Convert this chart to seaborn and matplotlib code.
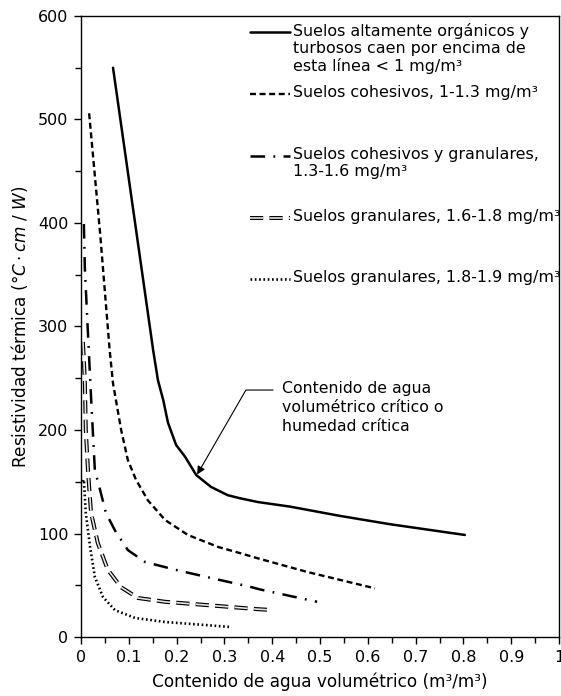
import matplotlib
matplotlib.use("Agg")
import matplotlib.pyplot as plt
import matplotlib.patheffects as pe
import seaborn as sns
import pandas as pd
from matplotlib.ticker import MultipleLocator, FixedLocator

sns.set_theme(style="white")
plt.rcParams['font.family'] = ['DejaVu Sans']
plt.rcParams['mathtext.fontset'] = 'dejavusans'
plt.rcParams['lines.scale_dashes'] = False

# ---- data ----
organic_x = [0.067, 0.151, 0.161, 0.172, 0.182, 0.199, 0.218, 0.241, 0.272, 0.307, 0.333, 0.37, 0.437, 0.542, 0.646, 0.803]
organic_y = [550, 277, 248, 229, 207, 185.5, 174, 156.5, 145, 137, 134, 130.4, 126, 117, 109, 98.6]

cohesive_x = [0.017, 0.04, 0.06, 0.067, 0.084, 0.098, 0.115, 0.14, 0.176, 0.224, 0.287, 0.333, 0.37, 0.472, 0.615]
cohesive_y = [506, 390, 277, 245, 200, 171, 152, 132, 113, 98.5, 87, 81, 76, 63, 47]

cohgran_x = [0.006, 0.008, 0.0125, 0.017, 0.021, 0.029, 0.04, 0.052, 0.071, 0.098, 0.134, 0.197, 0.272, 0.354, 0.374, 0.494]
cohgran_y = [399, 357, 313, 270, 232, 161, 142, 120, 103, 84, 72.5, 65, 57, 48.5, 46, 34]

gran1_x = [0.004, 0.008, 0.01, 0.015, 0.021, 0.035, 0.056, 0.084, 0.119, 0.176, 0.259, 0.366, 0.402]
gran1_y = [285, 248, 200, 158, 120, 91, 65, 48, 37.7, 34, 31, 27, 26]

gran2_x = [0.004, 0.006, 0.01, 0.019, 0.029, 0.046, 0.071, 0.113, 0.176, 0.259, 0.312]
gran2_y = [150, 152, 120, 87, 58, 38.6, 26, 18.4, 14.5, 11.6, 9.7]

labels = [
    "Suelos altamente orgánicos y\nturbosos caen por encima de\nesta línea < 1 mg/m³",
    "Suelos cohesivos, 1-1.3 mg/m³",
    "Suelos cohesivos y granulares,\n1.3-1.6 mg/m³",
    "Suelos granulares, 1.6-1.8 mg/m³",
    "Suelos granulares, 1.8-1.9 mg/m³",
]
x_ticks = [0, 0.1, 0.2, 0.3, 0.4, 0.5, 0.6, 0.7, 0.8, 0.9, 1]
x_tick_labels = ["0", "0.1", "0.2", "0.3", "0.4", "0.5", "0.6", "0.7", "0.8", "0.9", "1"]
y_ticks = [0, 100, 200, 300, 400, 500, 600]

xlabel = "Contenido de agua volumétrico (m³/m³)"
ylabel = r"Resistividad térmica ($°C \cdot cm\ /\ W$)"
annot_text = "Contenido de agua\nvolumétrico crítico o\nhumedad crítica"
annot_point = (0.243, 157)

series_x = [organic_x, cohesive_x, cohgran_x, gran1_x, gran2_x]
series_y = [organic_y, cohesive_y, cohgran_y, gran1_y, gran2_y]

# ---- styles ----
styles = [
    dict(color="black", lw=1.8, ls="-"),
    dict(color="black", lw=1.7, ls=(0, (4.3, 2.6))),
    dict(color="black", lw=1.8, ls=(0, (10.5, 6, 1.3, 6))),
    dict(color="#e6e6e6", lw=1.2, ls=(0, (9.5, 4.5)),
         path_effects=[pe.Stroke(linewidth=2.9, foreground="black"), pe.Normal()]),
    dict(color="black", lw=1.9, ls=(0, (1.2, 1.9))),
]

fig = plt.figure(figsize=(5.61, 6.96), dpi=100)
ax = fig.add_axes([81 / 561, 59 / 696, 478 / 561, 621 / 696])

for xs, ys, st in zip(series_x, series_y, styles):
    df = pd.DataFrame({"x": xs, "y": ys})
    kw = dict(color=st["color"], linewidth=st["lw"], linestyle=st["ls"])
    if "path_effects" in st:
        kw["path_effects"] = st["path_effects"]
    sns.lineplot(data=df, x="x", y="y", sort=False, ax=ax, estimator=None, **kw)

ax.set_xlim(0, 1)
ax.set_ylim(0, 600)
ax.xaxis.set_major_locator(FixedLocator(x_ticks))
ax.set_xticklabels(x_tick_labels)
ax.xaxis.set_minor_locator(MultipleLocator(0.05))
ax.yaxis.set_major_locator(FixedLocator(y_ticks))
ax.yaxis.set_minor_locator(MultipleLocator(50))
ax.tick_params(axis="both", which="both", direction="out", colors="black",
               bottom=True, left=True, top=False, right=False, labelsize=11.5)
ax.tick_params(axis="both", which="major", length=5, width=1, pad=4)
ax.tick_params(axis="both", which="minor", length=4, width=1)
for s in ax.spines.values():
    s.set_color("black")
    s.set_linewidth(1.0)

ax.set_xlabel(xlabel, fontsize=12.2, labelpad=6, color="black")
ax.set_ylabel(ylabel, fontsize=12.2, labelpad=6, color="black")

# manual legend (rows at irregular heights as in reference)
row_y = [0.974, 0.874, 0.774, 0.674, 0.576]
hx0, hx1, tx = 0.354, 0.437, 0.4435
for st, lab, yy in zip(styles, labels, row_y):
    kw = dict(color=st["color"], linewidth=st["lw"], linestyle=st["ls"])
    if "path_effects" in st:
        kw["path_effects"] = st["path_effects"]
    ax.plot([hx0, hx1], [yy, yy], transform=ax.transAxes, **kw)
    ax.text(tx, yy + 0.015, lab, transform=ax.transAxes, ha="left", va="top",
            fontsize=11.4, linespacing=1.17, color="black")

# annotation
ax.annotate("", xy=annot_point, xytext=(0.402, 238.6),
            arrowprops=dict(arrowstyle="-|>", connectionstyle="angle,angleA=0,angleB=60,rad=0",
                            color="black", lw=0.8, shrinkA=0, shrinkB=0, mutation_scale=12))
ax.text(0.42, 238.6 + 9, annot_text, ha="left", va="top", fontsize=11.3,
        linespacing=1.35, color="black")

fig.savefig("out.png", dpi=100)
